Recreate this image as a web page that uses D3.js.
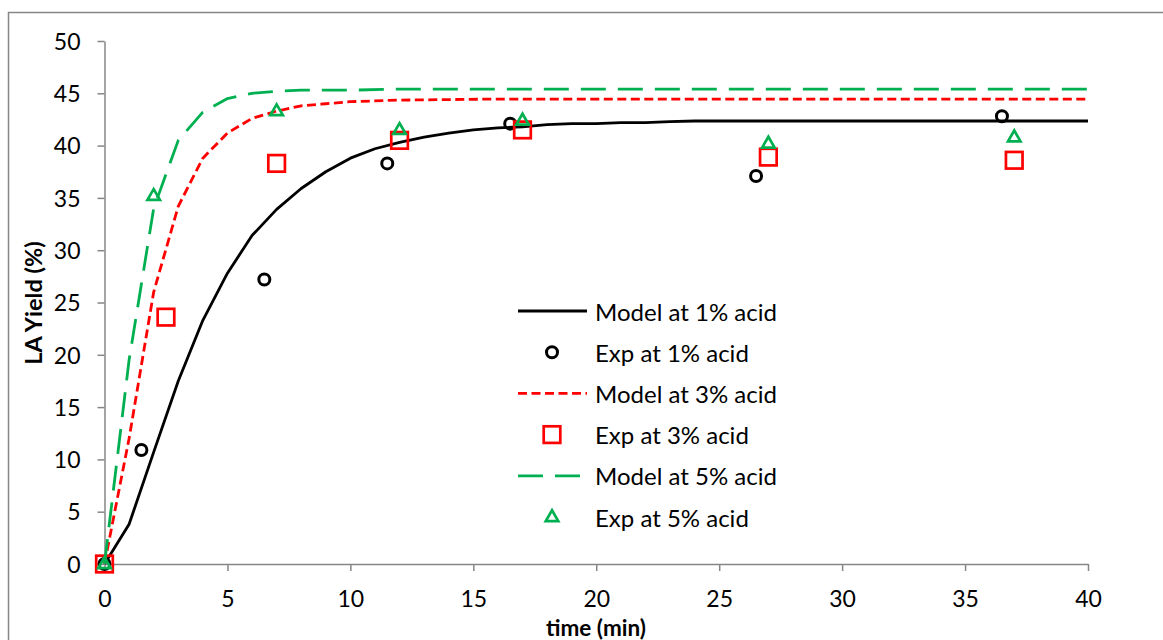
<!DOCTYPE html>
<html>
<head>
<meta charset="utf-8">
<script src="https://cdn.jsdelivr.net/npm/d3@7"></script>
<style>
  html, body { margin: 0; padding: 0; background: #fff; }
  svg { display: block; }
  text { font-family: Lato, "Open Sans", sans-serif; fill: #000; }
</style>
</head>
<body>
<svg id="chart" width="1163" height="640"></svg>
<script>
// ---------- data ----------
const modelTime1 = [0,1,2,3,4,5,6,7,8,9,10,11,12,13,14,15,16,17,18,19,20,21,22,23,24,30,40];
const modelYield1 = [0,3.8,10.7,17.5,23.3,27.8,31.4,33.9,35.9,37.5,38.8,39.7,40.3,40.8,41.2,41.5,41.7,41.8,42.0,42.1,42.1,42.2,42.2,42.3,42.35,42.35,42.35];

const modelTime3 = [0,1,2,3,4,5,6,7,8,9,10,12,14,16,20,30,40];
const modelYield3 = [0,12,26,34.2,38.8,41.2,42.6,43.3,43.8,44.0,44.2,44.35,44.4,44.45,44.45,44.45,44.45];

const modelTime5 = [0,1,2,3,4,5,6,7,8,10,12,16,20,30,40];
const modelYield5 = [0,19.5,34,40.5,43.2,44.5,45.0,45.2,45.3,45.3,45.4,45.4,45.4,45.4,45.4];

const expTime1 = [0,1.5,6.5,11.5,16.5,26.5,36.5];
const expYield1 = [0,10.9,27.2,38.3,42.1,37.1,42.8];

const expTime3 = [0,2.5,7,12,17,27,37];
const expYield3 = [0,23.6,38.3,40.5,41.5,38.9,38.6];

const expTime5 = [0,2,7,12,17,27,37];
const expYield5 = [0,35.2,43.3,41.5,42.4,40.2,40.8];

const xTicks = [0,5,10,15,20,25,30,35,40];
const yTicks = [0,5,10,15,20,25,30,35,40,45,50];

const legendLabels = ["Model at 1% acid","Exp at 1% acid","Model at 3% acid","Exp at 3% acid","Model at 5% acid","Exp at 5% acid"];

// ---------- layout ----------
const svg = d3.select("#chart");
const x = d3.scaleLinear().domain([0,40]).range([104.5,1088]);
const y = d3.scaleLinear().domain([0,50]).range([564,41]);
const axisColor = "#868686";

// outer chart border
svg.append("rect").attr("x",8.5).attr("y",12.5).attr("width",1170).attr("height",640)
  .attr("fill","none").attr("stroke",axisColor).attr("stroke-width",1.5);

// axes
const gx = svg.append("g").attr("transform",`translate(0,${y(0)})`)
  .call(d3.axisBottom(x).tickValues(xTicks).tickSize(7).tickSizeOuter(0).tickFormat(d3.format("d")));
const gy = svg.append("g").attr("transform",`translate(${x(0)},0)`)
  .call(d3.axisLeft(y).tickValues(yTicks).tickSize(7).tickSizeOuter(0).tickFormat(d3.format("d")));
[gx,gy].forEach(g=>{
  g.select(".domain").attr("stroke",axisColor).attr("stroke-width",1.5);
  g.selectAll(".tick line").attr("stroke",axisColor).attr("stroke-width",1.5);
  g.selectAll("text").attr("font-size",23).attr("font-family","Lato, sans-serif").attr("fill","#000");
});
gx.selectAll("text").attr("y",35).attr("dy","0.36em");
gy.selectAll("text").attr("x",-24).attr("dy","0.36em");

// axis titles
svg.append("text").attr("x",596).attr("y",627).attr("text-anchor","middle")
  .attr("dominant-baseline","central").attr("font-size",22.5).attr("font-weight","bold").text("time (min)");
svg.append("text").attr("transform","translate(33,303) rotate(-90)").attr("text-anchor","middle")
  .attr("dominant-baseline","central").attr("font-size",23.5).attr("font-weight","bold").text("LA Yield (%)");

// styles
const lineStyles = [
  {color:"#000000", dash:null},
  {color:"#ff0000", dash:"9,4.5"},
  {color:"#00b050", dash:"25,12"}
];
const line = d3.line().x(d=>x(d[0])).y(d=>y(d[1])).curve(d3.curveLinear);

function drawModel(ts, ys, st){
  svg.append("path").datum(d3.zip(ts,ys)).attr("d",line).attr("fill","none")
    .attr("stroke",st.color).attr("stroke-width",2.8)
    .attr("stroke-dasharray",st.dash).attr("stroke-linecap","butt").attr("stroke-linejoin","round");
}
const triPath = (cx,cy,s)=>{ const h=s*Math.sqrt(3)/2; return `M${cx},${cy-h*2/3}L${cx+s/2},${cy+h/3}L${cx-s/2},${cy+h/3}Z`; };

function drawMarker(g, kind, cx, cy){
  if(kind===0){
    g.append("circle").attr("cx",cx).attr("cy",cy).attr("r",5.5).attr("fill","none")
      .attr("stroke","#000").attr("stroke-width",3);
  } else if(kind===1){
    g.append("rect").attr("x",cx-8.3).attr("y",cy-8.3).attr("width",16.6).attr("height",16.6)
      .attr("fill","none").attr("stroke","#ff0000").attr("stroke-width",2.7);
  } else {
    g.append("path").attr("d",triPath(cx,cy+0.5,12.5)).attr("fill","none")
      .attr("stroke","#00b050").attr("stroke-width",2.7).attr("stroke-linejoin","miter");
  }
}
function drawExp(ts, ys, kind){
  const g = svg.append("g");
  d3.zip(ts,ys).forEach(d=>drawMarker(g,kind,x(d[0]),y(d[1])));
}

drawModel(modelTime1, modelYield1, lineStyles[0]);
drawExp(expTime1, expYield1, 0);
drawModel(modelTime3, modelYield3, lineStyles[1]);
drawExp(expTime3, expYield3, 1);
drawModel(modelTime5, modelYield5, lineStyles[2]);
drawExp(expTime5, expYield5, 2);

// legend
const legRowY = d3.scaleLinear().domain([0,5]).range([311,517]);
const leg = svg.append("g");
legendLabels.forEach((lab,i)=>{
  const ry = legRowY(i);
  const k = Math.floor(i/2);
  if(i%2===0){
    leg.append("line").attr("x1",518).attr("x2",587).attr("y1",ry).attr("y2",ry)
      .attr("stroke",lineStyles[k].color).attr("stroke-width",2.8)
      .attr("stroke-dasharray",lineStyles[k].dash);
  } else {
    drawMarker(leg,k,552,ry);
  }
  leg.append("text").attr("x",595).attr("y",ry).attr("dominant-baseline","central")
    .attr("font-size",24).text(lab);
});
</script>
</body>
</html>
